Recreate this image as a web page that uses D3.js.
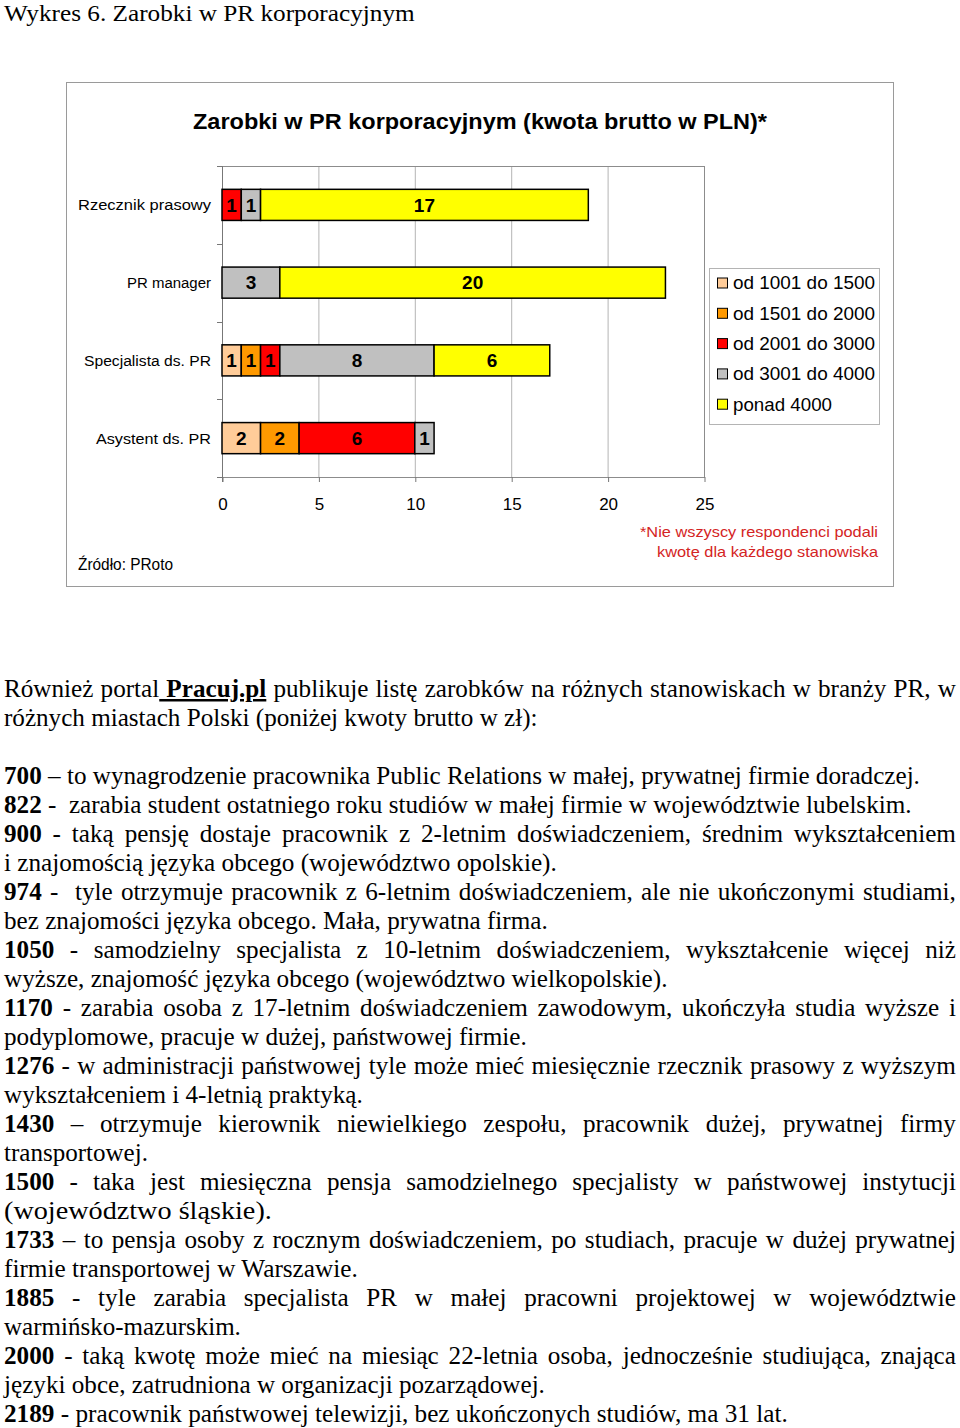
<!DOCTYPE html>
<html><head><meta charset="utf-8">
<script src="https://cdn.jsdelivr.net/npm/d3@7"></script>
<style>body{margin:0;background:#fff}svg{display:block}</style>
</head><body>
<svg id="c" width="960" height="1428"></svg>
<script>
// ---------- chart data ----------
const categories = ["Rzecznik prasowy", "PR manager", "Specjalista ds. PR", "Asystent ds. PR"];
const seriesNames = ["od 1001 do 1500", "od 1501 do 2000", "od 2001 do 3000", "od 3001 do 4000", "ponad 4000"];
const s1001_1500 = [0, 0, 1, 2];
const s1501_2000 = [0, 0, 1, 2];
const s2001_3000 = [1, 0, 1, 6];
const s3001_4000 = [1, 3, 8, 1];
const sOver4000  = [17, 20, 6, 0];
const xTicks = [0, 5, 10, 15, 20, 25];
const seriesColors = ["#FFCC99", "#FF9900", "#FF0000", "#C0C0C0", "#FFFF00"];
const chartTitle = "Zarobki w PR korporacyjnym (kwota brutto w PLN)*";
const footnote = ["*Nie wszyscy respondenci podali", "kwotę dla każdego stanowiska"];
const sourceText = "Źródło: PRoto";

// ---------- page text ----------
const pageTitle = "Wykres 6. Zarobki w PR korporacyjnym";
const introLines = [
  {segs: [["Również portal"], [" Pracuj.pl", "bu"], [" publikuje listę zarobków na różnych stanowiskach w branży PR, w"]], j: true},
  {segs: [["różnych miastach Polski (poniżej kwoty brutto w zł):"]], end: 538}
];
const listLines = [
  {segs: [["700", "b"], [" – to wynagrodzenie pracownika Public Relations w małej, prywatnej firmie doradczej."]], end: 920},
  {segs: [["822", "b"], [" -  zarabia student ostatniego roku studiów w małej firmie w województwie lubelskim."]], end: 912},
  {segs: [["900", "b"], [" - taką pensję dostaje pracownik z 2-letnim doświadczeniem, średnim wykształceniem"]], j: true},
  {segs: [["i znajomością języka obcego (województwo opolskie)."]], end: 557},
  {segs: [["974", "b"], [" -  tyle otrzymuje pracownik z 6-letnim doświadczeniem, ale nie ukończonymi studiami,"]], j: true},
  {segs: [["bez znajomości języka obcego. Mała, prywatna firma."]], end: 548},
  {segs: [["1050", "b"], [" - samodzielny specjalista z 10-letnim doświadczeniem, wykształcenie więcej niż"]], j: true},
  {segs: [["wyższe, znajomość języka obcego (województwo wielkopolskie)."]], end: 668},
  {segs: [["1170", "b"], [" - zarabia osoba z 17-letnim doświadczeniem zawodowym, ukończyła studia wyższe i"]], j: true},
  {segs: [["podyplomowe, pracuje w dużej, państwowej firmie."]], end: 527},
  {segs: [["1276", "b"], [" - w administracji państwowej tyle może mieć miesięcznie rzecznik prasowy z wyższym"]], j: true},
  {segs: [["wykształceniem i 4-letnią praktyką."]], end: 363},
  {segs: [["1430", "b"], [" – otrzymuje kierownik niewielkiego zespołu, pracownik dużej, prywatnej firmy"]], j: true},
  {segs: [["transportowej."]], end: 148},
  {segs: [["1500", "b"], [" - taka jest miesięczna pensja samodzielnego specjalisty w państwowej instytucji"]], j: true},
  {segs: [["(województwo śląskie)."]], end: 272},
  {segs: [["1733", "b"], [" – to pensja osoby z rocznym doświadczeniem, po studiach, pracuje w dużej prywatnej"]], j: true},
  {segs: [["firmie transportowej w Warszawie."]], end: 358},
  {segs: [["1885", "b"], [" - tyle zarabia specjalista PR w małej pracowni projektowej w województwie"]], j: true},
  {segs: [["warmińsko-mazurskim."]], end: 241},
  {segs: [["2000", "b"], [" - taką kwotę może mieć na miesiąc 22-letnia osoba, jednocześnie studiująca, znająca"]], j: true},
  {segs: [["języki obce, zatrudniona w organizacji pozarządowej."]], end: 545},
  {segs: [["2189", "b"], [" - pracownik państwowej telewizji, bez ukończonych studiów, ma 31 lat."]], end: 788}
];

const svg = d3.select("#c");
const SANS = "'Liberation Sans', Arial, sans-serif";
const SERIF = "'Liberation Serif', 'Times New Roman', serif";

// ---------- chart frame ----------
svg.append("rect").attr("x", 66.5).attr("y", 82.5).attr("width", 827).attr("height", 504)
  .attr("fill", "#fff").attr("stroke", "#9a9a9a").attr("stroke-width", 1);

function fit(sel, w) { sel.attr("textLength", w).attr("lengthAdjust", "spacingAndGlyphs"); return sel; }

fit(svg.append("text").attr("x", 480).attr("y", 129).attr("text-anchor", "middle")
  .attr("font-family", SANS).attr("font-weight", "bold").attr("font-size", 22.5).text(chartTitle), 574);

const plot = {l: 222, r: 704, t: 166, b: 477};
const x = d3.scaleLinear().domain([0, 25]).range([plot.l, plot.r]);
const y = d3.scaleBand().domain(categories).range([plot.t, plot.b]).paddingInner(0.6).paddingOuter(0.3);

// gridlines
svg.append("g").selectAll("line").data(xTicks.filter(t => t > 0 && t < 25)).join("line")
  .attr("x1", d => x(d) + 0.5).attr("x2", d => x(d) + 0.5).attr("y1", plot.t).attr("y2", plot.b)
  .attr("stroke", "#b4b4b4").attr("stroke-width", 1);
svg.append("rect").attr("x", plot.l + 0.5).attr("y", plot.t + 0.5).attr("width", plot.r - plot.l).attr("height", plot.b - plot.t)
  .attr("fill", "none").attr("stroke", "#8c8c8c").attr("stroke-width", 1);
svg.append("line").attr("x1", plot.l + 0.5).attr("x2", plot.l + 0.5).attr("y1", plot.t).attr("y2", plot.b + 5)
  .attr("stroke", "#777");

// left axis ticks at category boundaries
const boundaries = d3.range(categories.length + 1).map(i => plot.t + i * (plot.b - plot.t) / categories.length);
svg.append("g").selectAll("line").data(boundaries).join("line")
  .attr("x1", plot.l - 5).attr("x2", plot.l).attr("y1", d => Math.round(d) + 0.5).attr("y2", d => Math.round(d) + 0.5)
  .attr("stroke", "#777");

// category labels
const catW = [133, 84, 127, 115];
svg.append("g").selectAll("text").data(categories).join("text")
  .attr("x", plot.l - 11).attr("y", d => y(d) + y.bandwidth() / 2).attr("dy", "0.35em")
  .attr("text-anchor", "end").attr("font-family", SANS).attr("font-size", 15.5).attr("fill", "#000")
  .text(d => d).each(function (d, i) { fit(d3.select(this), catW[i]); });

// bottom axis
const xAxis = svg.append("g").attr("transform", `translate(0.5,${plot.b})`)
  .call(d3.axisBottom(x).tickValues(xTicks).tickSize(5).tickPadding(16));
xAxis.select(".domain").remove();
xAxis.selectAll(".tick line").attr("stroke", "#777");
xAxis.selectAll(".tick text").attr("font-family", SANS).attr("font-size", 17).attr("fill", "#000");

// stacked bars
const rows = categories.map((c, i) => ({cat: c, s0: s1001_1500[i], s1: s1501_2000[i], s2: s2001_3000[i], s3: s3001_4000[i], s4: sOver4000[i]}));
const keys = ["s0", "s1", "s2", "s3", "s4"];
const stacked = d3.stack().keys(keys)(rows);
const layers = svg.append("g").selectAll("g").data(stacked).join("g")
  .attr("fill", (d, i) => seriesColors[i]);
layers.selectAll("rect").data(d => d.filter(p => p[1] - p[0] > 0)).join("rect")
  .attr("x", d => x(d[0])).attr("width", d => x(d[1]) - x(d[0]))
  .attr("y", d => y(d.data.cat)).attr("height", y.bandwidth())
  .attr("stroke", "#000").attr("stroke-width", 1.5);
layers.selectAll("text").data(d => d.filter(p => p[1] - p[0] > 0)).join("text")
  .attr("x", d => (x(d[0]) + x(d[1])) / 2).attr("y", d => y(d.data.cat) + y.bandwidth() / 2).attr("dy", "0.36em")
  .attr("text-anchor", "middle").attr("font-family", SANS).attr("font-weight", "bold").attr("font-size", 19)
  .attr("fill", "#000").text(d => d[1] - d[0]);

// legend
svg.append("rect").attr("x", 709.5).attr("y", 268.5).attr("width", 170).attr("height", 156)
  .attr("fill", "#fff").attr("stroke", "#b4b4b4");
const legW = [142, 142, 142, 142, 99];
const leg = svg.append("g").selectAll("g").data(seriesNames).join("g")
  .attr("transform", (d, i) => `translate(717,${283 + i * 30.3})`);
leg.append("rect").attr("x", 0.5).attr("y", -5).attr("width", 10).attr("height", 10)
  .attr("fill", (d, i) => seriesColors[i]).attr("stroke", "#000").attr("stroke-width", 1);
leg.append("text").attr("x", 16).attr("dy", "0.36em").attr("font-family", SANS).attr("font-size", 17.5)
  .text(d => d).each(function (d, i) { fit(d3.select(this), legW[i]); });

// footnote & source
svg.append("g").selectAll("text").data(footnote).join("text")
  .attr("x", 878).attr("y", (d, i) => 537 + i * 20).attr("text-anchor", "end")
  .attr("font-family", SANS).attr("font-size", 15).attr("fill", "#D42424")
  .text(d => d).each(function (d, i) { fit(d3.select(this), [238, 221][i]); });
fit(svg.append("text").attr("x", 78).attr("y", 570).attr("font-family", SANS).attr("font-size", 16).text(sourceText), 95);

// ---------- page text ----------
function drawLine(spec, yBase, size) {
  const t = svg.append("text").attr("y", 0).attr("x", 0)
    .attr("font-family", SERIF).attr("font-size", size || 25).attr("fill", "#000").style("white-space", "pre");
  spec.segs.forEach(s => {
    const ts = t.append("tspan").text(s[0]);
    if (s[1] && s[1].includes("b")) ts.attr("font-weight", "bold");
    if (s[1] && s[1].includes("u")) ts.attr("text-decoration", "underline");
  });
  return {t, w: t.node().getComputedTextLength(), spec, yBase};
}
const pt = drawLine({segs: [[pageTitle]]}, 21, 23.5);
const all = [];
introLines.forEach((l, i) => all.push(drawLine(l, 697 + i * 29)));
listLines.forEach((l, i) => all.push(drawLine(l, 784 + i * 29)));
const scales = all.filter(o => !o.spec.j).map(o => (o.spec.end - 4) / o.w);
const sx = d3.median(scales);
pt.t.attr("transform", `translate(4,${pt.yBase}) scale(${(415 - 4) / pt.w},1)`);
all.forEach(o => {
  if (o.spec.j) {
    const txt = o.spec.segs.map(s => s[0]).join("");
    const nSp = (txt.match(/ /g) || []).length;
    const ws = (952 / sx - o.w) / nSp;
    o.t.attr("word-spacing", ws);
    o.t.attr("transform", `translate(4,${o.yBase}) scale(${sx},1)`);
  } else {
    o.t.attr("transform", `translate(4,${o.yBase}) scale(${(o.spec.end - 4) / o.w},1)`);
  }
});
</script>
</body></html>
